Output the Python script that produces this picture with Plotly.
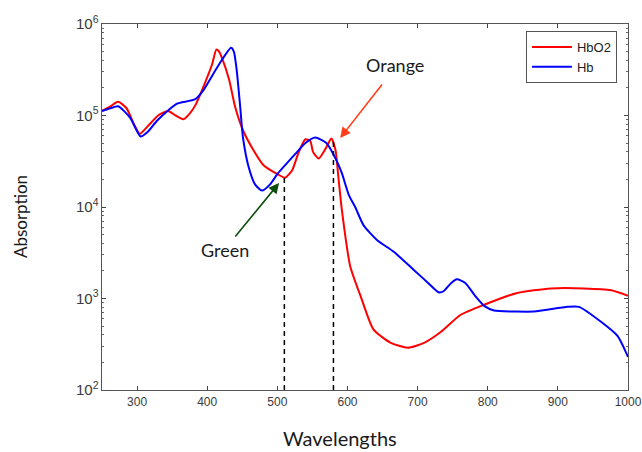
import plotly.graph_objects as go

# Absorption spectra of oxy- and deoxy-haemoglobin (log scale)
wl_hbo2 = [250, 262, 273, 285, 296, 304, 315, 330, 344, 355, 366, 375, 383, 397, 407,
           413, 417, 421, 431, 440, 451, 466, 480, 500, 511, 521, 530, 540, 547, 551,
           559, 569, 577, 583, 587, 592, 604, 619, 637, 661, 686, 710, 733, 761, 794,
           842, 890, 937, 976, 1000]
abs_hbo2 = [1.12e5, 1.26e5, 1.41e5, 1.20e5, 7.9e4, 6.3e4, 7.6e4, 1.0e5, 1.12e5, 1.0e5,
            9.1e4, 1.05e5, 1.29e5, 2.29e5, 3.63e5, 5.25e5, 5.0e5, 4.27e5, 2.51e5, 1.23e5,
            6.9e4, 4.17e4, 2.88e4, 2.29e4, 2.09e4, 2.51e4, 3.89e4, 5.5e4, 5.25e4, 3.98e4,
            3.39e4, 4.37e4, 5.62e4, 4.17e4, 2.14e4, 9.3e3, 2.24e3, 1.05e3, 4.6e2, 3.3e2,
            2.9e2, 3.3e2, 4.3e2, 6.6e2, 8.5e2, 1.15e3, 1.29e3, 1.29e3, 1.23e3, 1.07e3]

wl_hb = [250, 262, 273, 290, 305, 315, 328, 345, 357, 383, 395, 409, 422, 434, 438,
         442, 447, 451, 459, 468, 478, 490, 501, 515, 528, 540, 554, 570, 583, 592,
         602, 611, 623, 642, 666, 695, 715, 730, 737, 748, 756, 768, 782, 795, 809,
         840, 866, 914, 930, 961, 985, 1000]
abs_hb = [1.12e5, 1.20e5, 1.26e5, 9.5e4, 5.9e4, 6.6e4, 8.7e4, 1.15e5, 1.35e5, 1.51e5,
          1.91e5, 2.88e5, 4.17e5, 5.5e5, 5.0e5, 3.16e5, 1.26e5, 5.75e4, 2.75e4, 1.78e4,
          1.51e4, 1.78e4, 2.34e4, 3.09e4, 3.98e4, 5.0e4, 5.75e4, 5.0e4, 3.39e4, 2.34e4,
          1.35e4, 1.0e4, 6.3e3, 4.37e3, 3.24e3, 2.04e3, 1.48e3, 1.17e3, 1.2e3, 1.48e3,
          1.62e3, 1.48e3, 1.07e3, 8.3e2, 7.4e2, 7.2e2, 7.2e2, 8.1e2, 8.1e2, 5.6e2,
          3.9e2, 2.3e2]

# Marked wavelengths (green and orange light) and the absorption where each marker stops
marker_wl = [510, 580]
marker_top = [2.24e4, 5.4e4]

fig = go.Figure()
fig.add_trace(go.Scatter(x=wl_hbo2, y=abs_hbo2, name="HbO2", mode="lines",
                         line=dict(color="#ff0000", width=2, shape="spline", smoothing=0.6)))
fig.add_trace(go.Scatter(x=wl_hb, y=abs_hb, name="Hb", mode="lines",
                         line=dict(color="#0000ff", width=2, shape="spline", smoothing=0.6)))

for w, top in zip(marker_wl, marker_top):
    fig.add_trace(go.Scatter(x=[w, w], y=[100, top], mode="lines", showlegend=False,
                             hoverinfo="skip",
                             line=dict(color="#000000", width=1.5, dash="5px,4px")))

label_font = dict(family="Lato, Open Sans, sans-serif", size=18, color="#1a1a1a")

# Arrows pointing at the two marked wavelengths
fig.add_annotation(x=589.6, y=4.754, ax=651, ay=5.355, xref="x", yref="y",
                   axref="x", ayref="y", text="", showarrow=True,
                   arrowhead=2, arrowsize=1.3, arrowwidth=1.6, arrowcolor="#ff3d17")
fig.add_annotation(x=668, y=5.552, xref="x", yref="y", text="Orange",
                   showarrow=False, font=label_font)
fig.add_annotation(x=502.5, y=4.262, ax=438.3, ay=3.661, xref="x", yref="y",
                   axref="x", ayref="y", text="", showarrow=True,
                   arrowhead=2, arrowsize=1.3, arrowwidth=1.6, arrowcolor="#0d4d0d")
fig.add_annotation(x=425.5, y=3.53, xref="x", yref="y", text="Green",
                   showarrow=False, font=label_font)

# Axis titles
fig.add_annotation(x=0.4525, y=-0.131, xref="paper", yref="paper", text="Wavelengths",
                   xanchor="center", yanchor="middle", showarrow=False,
                   font=dict(family="Lato, Open Sans, sans-serif", size=20, color="#1a1a1a"))
fig.add_annotation(x=-0.156, y=0.475, xref="paper", yref="paper", text="Absorption",
                   xanchor="center", yanchor="middle", textangle=-90, showarrow=False,
                   font=dict(family="Lato, Open Sans, sans-serif", size=17, color="#1a1a1a"))

tick_font = dict(family="Liberation Sans, Arial, sans-serif", size=12, color="#3a3a3a")

fig.update_xaxes(range=[250, 1000], tickvals=[300, 400, 500, 600, 700, 800, 900, 1000],
                 ticks="inside", ticklen=4, tickcolor="#444", showline=True,
                 linecolor="#555", linewidth=1.2, mirror="ticks", showgrid=False,
                 zeroline=False, tickfont=tick_font, automargin=False)
fig.update_yaxes(type="log", range=[2, 6], dtick=1, exponentformat="power",
                 showexponent="all", ticks="inside", ticklen=4, tickcolor="#444",
                 minor=dict(ticks="inside", ticklen=2, tickcolor="#666", showgrid=False),
                 showline=True, linecolor="#555", linewidth=1.2, mirror="ticks",
                 showgrid=False, zeroline=False, tickfont=tick_font, automargin=False)

fig.update_layout(
    width=642, height=452,
    margin=dict(l=102, r=14, t=24, b=62),
    paper_bgcolor="white", plot_bgcolor="white",
    legend=dict(x=0.979, y=0.981, xanchor="right", yanchor="top",
                bgcolor="white", bordercolor="#555", borderwidth=1,
                font=dict(family="Liberation Sans, Arial, sans-serif", size=13, color="#222"),
                tracegroupgap=0, itemwidth=40),
    showlegend=True,
)

fig.write_html("out.html")
